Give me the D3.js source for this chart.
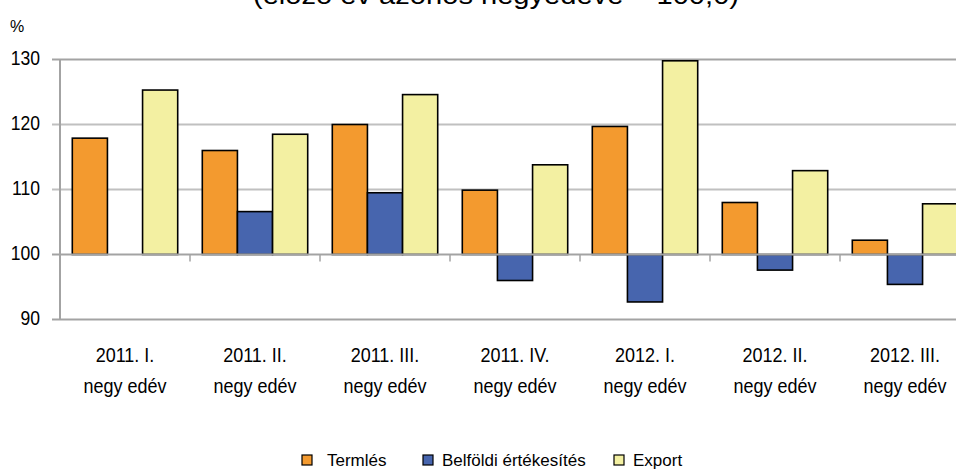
<!DOCTYPE html>
<html>
  <head>
    <meta charset="utf-8">
    <style type="text/css">
      body { margin: 0; background: #fff; }
      svg text { font-family: "Liberation Sans", Arial, sans-serif; fill: #000; }
    </style>
  </head>
  <body>
    <script src="https://cdn.jsdelivr.net/npm/d3@7"></script>
    <script>

/*========== Data ==========*/
const quarters = ['2011. I.', '2011. II.', '2011. III.', '2011. IV.', '2012. I.', '2012. II.', '2012. III.'];
const quarterSub = 'negy edév';
const seriesNames = ['Termlés', 'Belföldi értékesítés', 'Export'];
const termeles = [117.9, 116.0, 120.0, 109.9, 119.7, 108.0, 102.2];
const belfoldi = [null, 106.6, 109.5, 96.0, 92.7, 97.6, 95.4];
const exportVals = [125.3, 118.5, 124.6, 113.8, 129.8, 112.9, 107.8];
const yTicks = [90, 100, 110, 120, 130];
const seriesColors = ['#F39A2F', '#4765AE', '#F3F0A2'];
const titleText = '(előző év azonos negyedéve = 100,0)';

/*========== Zones ==========*/
const W = 956, H = 469;
const plot = {left: 60, right: 970, top: 59.5, bottom: 319.5};

var svg = d3.select('body').append('svg')
    .attr('width', W)
    .attr('height', H);

// scales
var x = d3.scaleBand()
    .domain(quarters)
    .range([plot.left, plot.right])
    .padding(0);
var xs = d3.scaleBand()
    .domain(seriesNames)
    .range([12.3, x.bandwidth() - 12.3])
    .padding(0);
var y = d3.scaleLinear()
    .domain([90, 130])
    .range([plot.bottom, plot.top]);

// title (cut at the top like the original)
svg.append('text')
    .attr('x', 496)
    .attr('y', 4)
    .attr('text-anchor', 'middle')
    .attr('font-size', 26)
    .attr('textLength', 486)
    .attr('lengthAdjust', 'spacingAndGlyphs')
  .text(titleText);

// unit
svg.append('text')
    .attr('x', 10)
    .attr('y', 32)
    .attr('font-size', 16)
  .text('%');

// gridlines
svg.append('g')
  .selectAll('line')
  .data(yTicks.filter(d => d != 100))
  .enter()
  .append('line')
    .attr('x1', plot.left - 8)
    .attr('x2', W)
    .attr('y1', d => y(d))
    .attr('y2', d => y(d))
    .attr('stroke', d => (d == 130 || d == 90) ? '#a3a3a3' : '#c0c0c0')
    .attr('stroke-width', 2);

// y axis labels (slightly condensed, like the original)
svg.append('g')
  .selectAll('text')
  .data(yTicks)
  .enter()
  .append('text')
    .attr('transform', d => `translate(40,${y(d) + 5}) scale(0.9,1)`)
    .attr('text-anchor', 'end')
    .attr('font-size', 19.5)
  .text(d => d);

// y axis line
svg.append('line')
    .attr('x1', plot.left).attr('x2', plot.left)
    .attr('y1', plot.top).attr('y2', plot.bottom)
    .attr('stroke', '#a3a3a3')
    .attr('stroke-width', 2);

// bars
const allSeries = [termeles, belfoldi, exportVals];
allSeries.forEach(function(vals, s) {
  var rows = quarters.map((q, i) => ({q: q, v: vals[i]})).filter(d => d.v != null);
  svg.append('g')
    .selectAll('rect')
    .data(rows)
    .enter()
    .append('rect')
      .attr('x', d => x(d.q) + xs(seriesNames[s]))
      .attr('width', xs.bandwidth())
      .attr('y', d => Math.min(y(d.v), y(100)))
      .attr('height', d => Math.abs(y(d.v) - y(100)))
      .attr('fill', seriesColors[s])
      .attr('stroke', '#000')
      .attr('stroke-width', 1.6);
});

// category axis at 100
svg.append('line')
    .attr('x1', plot.left - 8)
    .attr('x2', W)
    .attr('y1', y(100))
    .attr('y2', y(100))
    .attr('stroke', '#a3a3a3')
    .attr('stroke-width', 2);
svg.append('g')
  .selectAll('line')
  .data(quarters.slice(1))
  .enter()
  .append('line')
    .attr('x1', d => x(d)).attr('x2', d => x(d))
    .attr('y1', y(100)).attr('y2', y(100) + 7)
    .attr('stroke', '#a3a3a3')
    .attr('stroke-width', 1.5);

// category labels
var labels = svg.append('g')
  .selectAll('g')
  .data(quarters)
  .enter()
  .append('g')
    .attr('transform', d => `translate(${x(d) + x.bandwidth() / 2},0) scale(0.9,1)`);
labels.append('text')
    .attr('y', 362)
    .attr('text-anchor', 'middle')
    .attr('font-size', 20)
  .text(d => d);
labels.append('text')
    .attr('y', 393)
    .attr('text-anchor', 'middle')
    .attr('font-size', 20)
  .text(quarterSub);

// legend
const legendX = [302, 423, 614];
var legend = svg.append('g')
  .selectAll('g')
  .data(seriesNames)
  .enter()
  .append('g')
    .attr('transform', (d, i) => `translate(${legendX[i]},455)`);
legend.append('rect')
    .attr('width', 10)
    .attr('height', 10)
    .attr('fill', (d, i) => seriesColors[i])
    .attr('stroke', '#000')
    .attr('stroke-width', 1.2);
legend.append('text')
    .attr('x', (d, i) => i == 0 ? 25 : 19)
    .attr('y', 10.5)
    .attr('font-size', 17)
  .text(d => d);

    </script>
  </body>
</html>
